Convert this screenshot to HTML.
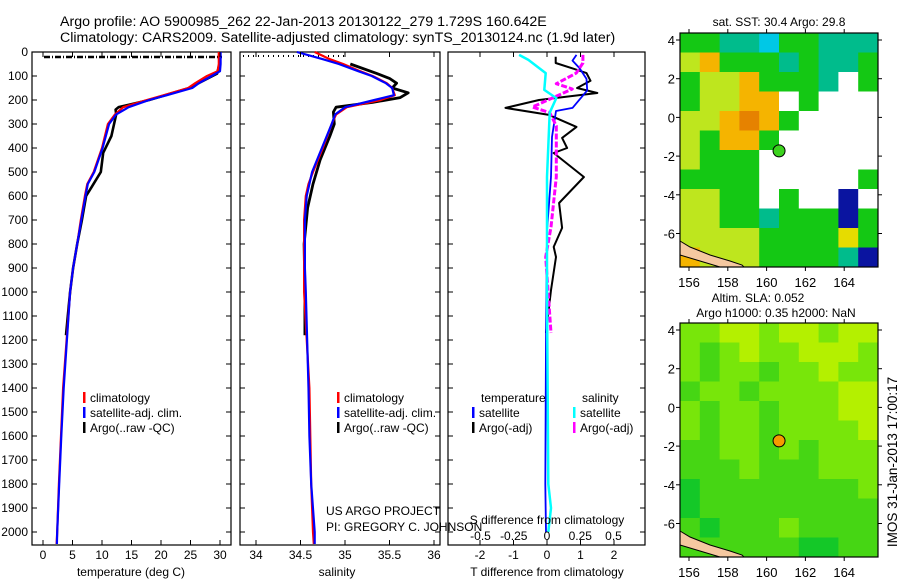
<!DOCTYPE html>
<html><head><meta charset="utf-8">
<style>
html,body{margin:0;padding:0;background:#fff;}
svg{display:block;font-family:"Liberation Sans",sans-serif;}
text{fill:#000;}
</style></head>
<body>
<svg id="fig" width="900" height="580" viewBox="0 0 900 580" xmlns="http://www.w3.org/2000/svg">
<text x="60" y="26" font-size="14.2">Argo profile: AO 5900985_262 22-Jan-2013 20130122_279 1.729S 160.642E</text>
<text x="60" y="42" font-size="14.2">Climatology: CARS2009. Satellite-adjusted climatology: synTS_20130124.nc (1.9d later)</text>
<g id="panels"></g>
</svg>
<script>
// ---- data ----
const depthTicks=[0,100,200,300,400,500,600,700,800,900,1000,1100,1200,1300,1400,1500,1600,1700,1800,1900,2000];
const tempTicks=[0,5,10,15,20,25,30];
const salTicks=[34,34.5,35,35.5,36];
const tdTicks=[-2,-1,0,1,2];
const sdTicks=[-0.5,-0.25,0,0.25,0.5];
const climDepth=[0,30,50,80,100,130,150,180,200,230,260,300,400,500,550,600,700,800,900,1000,1400,1600,1800,2000,2050];
const climTemp=[29.8,29.8,29.8,29.6,27.8,25.8,24.6,20.5,17.6,13.6,12.2,11,10,8.6,7.5,7.1,6.4,5.8,5.1,4.6,3.4,3.05,2.7,2.4,2.3];
const satTemp=[30.1,30.1,30.1,30.0,28.6,26.4,25.3,21,18.0,14.5,12.4,11.2,10.1,8.7,7.6,7.2,6.5,5.8,5.1,4.6,3.5,3.1,2.75,2.4,2.35];
const argoDepth=[10,50,90,150,200,230,240,260,350,420,500,560,600,700,800,900,1000,1100,1180];
const argoTemp=[29.9,29.9,29.5,24.8,18,12.8,12.3,12.4,11.6,10.2,9.8,8.3,7.3,6.6,5.8,5.1,4.6,4.2,3.9];
const climSal=[34.66,34.83,34.98,35.17,35.31,35.47,35.53,35.56,35.4,35.02,34.9,34.85,34.75,34.64,34.59,34.56,34.54,34.54,34.54,34.54,34.6,34.61,34.62,34.64,34.65];
const satSal=[34.46,34.75,34.93,35.15,35.3,35.46,35.53,35.55,35.33,35.0,34.89,34.85,34.74,34.63,34.6,34.57,34.55,34.55,34.55,34.56,34.59,34.6,34.62,34.66,34.66];
const argoSalDepth=[50,90,110,130,150,170,190,210,230,250,300,350,450,550,650,800,1000,1180];
const argoSal=[35.06,35.36,35.5,35.58,35.53,35.71,35.62,35.31,34.9,34.87,34.88,34.83,34.72,34.64,34.58,34.54,34.55,34.55];
const tdDepth=[20,46,70,88,120,150,171,200,233,262,312,358,400,421,521,629,733,812,854,992,1171];
const tdArgo=[0.26,0.26,0.8,1.18,1.3,0.9,1.5,-0.24,-1.24,0.06,0.88,0.45,0.6,0.2,1.1,0.36,0.45,0.2,0.27,0.12,-0.03];
const tdSatDepth=[12,36,67,112,160,233,246,354,521,744,1208,1800,2000];
const tdSat=[0.88,0.76,0.97,1.18,1.2,0.76,0.27,0.15,0.12,0,-0.03,-0.05,-0.03];
const sdSatDepth=[12,33,88,158,192,253,521,1000,1800,1900,2000];
const sdSat=[-0.21,-0.14,-0.01,-0.02,0.07,0.02,0,0,0.01,0.03,0.01];
const sdArgoDepth=[12,46,88,132,154,229,253,308,521,729,854,1171];
const sdArgo=[0.27,0.27,0.22,0.07,0.19,-0.11,0.02,0.07,0.07,0.03,-0.01,0.03];
const sstGrid=["ggttcggttt","yogggtgttg","gyyogggtWg","gyyooWgWWW","yyoOogWWWW","ygoogWWWWW","ygggWWWWWW","ggggWWWWWg","yyggWgWWbW","yyggtgggbg","yyyyggggYg","oyyyggggtb"];
const slaGrid=["MMLLMLLMLL","MGMLMMLLLM","MGMMGMMLMM","GMMGMMMMLL","MGMMGMMMLL","MGMMGMMMML","GGMMGMGMMM","GGGMGGGMMM","DGGGGGGGGM","DGGGGGGGGG","GDGGGMGGGG","GGGGGGDDGG"];
const sstColors={g:"#14c814",t:"#00bc8c",c:"#00c8e6",y:"#bee61e",Y:"#e6dc00",o:"#f5b400",O:"#e68200",b:"#0a14a0",W:"#ffffff"};
const slaColors={L:"#b4f000",M:"#78e60a",G:"#46d614",D:"#14c828"};
const NS="http://www.w3.org/2000/svg";
const root=document.getElementById('panels');
function el(tag,attrs,parent,txt){const e=document.createElementNS(NS,tag);for(const k in attrs)e.setAttribute(k,attrs[k]);if(txt!==undefined)e.textContent=txt;(parent||root).appendChild(e);return e;}
const y0=52, yScale=0.24;
function yD(d){return y0+d*yScale;}
function line(xs,ds,fx,color,w,name,dash){
  const pts=xs.map((v,i)=>fx(v).toFixed(1)+","+yD(ds[i]).toFixed(1)).join(" ");
  const p=el('polyline',{points:pts,fill:"none",stroke:color,"stroke-width":w,"stroke-linejoin":"round"});
  if(dash)p.setAttribute('stroke-dasharray',dash);
  
  
}
function box(x1,x2,name){
  const r=el('rect',{x:x1,y:52,width:x2-x1,height:493,fill:"none",stroke:"#000","stroke-width":1.2});
  
  
  depthTicks.forEach(d=>{el('line',{x1:x1,x2:x1+5,y1:yD(d),y2:yD(d),stroke:"#000"});el('line',{x1:x2,x2:x2-5,y1:yD(d),y2:yD(d),stroke:"#000"});});
}
function xticks(ticks,fx,y,lbl){ticks.forEach(t=>{const x=fx(t);el('line',{x1:x,x2:x,y1:545,y2:540,stroke:"#000"});el('line',{x1:x,x2:x,y1:52,y2:57,stroke:"#000"});const tx=el('text',{x:x,y:y,"font-size":12,"text-anchor":"middle"},root,String(t));});}
function legend(x,y,color,txt){el('rect',{x:x,y:y-10,width:2.5,height:11,fill:color});const t=el('text',{x:x+7,y:y,"font-size":12},root,txt);}
depthTicks.forEach(d=>{const t=el('text',{x:28,y:yD(d)+4,"font-size":12,"text-anchor":"end"},root,String(d));});
// panel 1 temperature
const fT=t=>43+5.9*t;
box(32,231,'temperature-panel');
el('line',{x1:44,x2:222,y1:57,y2:57,stroke:"#000","stroke-width":2.5,"stroke-dasharray":"6 2 1 2"});
line(argoTemp,argoDepth,fT,"#000",2.6,'argo-temperature-line');
line(climTemp,climDepth,fT,"#f00",2.2,'climatology-temperature-line');
line(satTemp,climDepth,fT,"#0000ff",2.2,'satellite-temperature-line');
xticks(tempTicks,fT,559,'temperature-tick-label');
el('text',{x:131,y:576,"font-size":12,"text-anchor":"middle",},root,"temperature (deg C)");
legend(83,402,"#f00","climatology");legend(83,417,"#00f","satellite-adj. clim.");legend(83,432,"#000","Argo(..raw -QC)");
// panel 2 salinity
const fS=s=>256+89*(s-34);
box(240,440,'salinity-panel');
el('line',{x1:243,x2:345,y1:56,y2:56,stroke:"#000","stroke-width":2,"stroke-dasharray":"1 4"});
line(argoSal,argoSalDepth,fS,"#000",2.8,'argo-salinity-line');
line(climSal,climDepth,fS,"#f00",2.2,'climatology-salinity-line');
line(satSal,climDepth,fS,"#0000ff",2.2,'satellite-salinity-line');
xticks(salTicks,fS,559,'salinity-tick-label');
el('text',{x:337,y:576,"font-size":12,"text-anchor":"middle",},root,"salinity");
legend(337,402,"#f00","climatology");legend(337,417,"#00f","satellite-adj. clim.");legend(337,432,"#000","Argo(..raw -QC)");
el('text',{x:326,y:515,"font-size":12,},root,"US ARGO PROJECT");
el('text',{x:326,y:531,"font-size":12,},root,"PI: GREGORY C. JOHNSON");
// panel 3 differences
const fTD=t=>547+33.5*t, fSD=s=>547+133*s;
box(448,645,'difference-panel');
line(tdArgo,tdDepth,fTD,"#000",2,'argo-temperature-difference-line');
line(tdSat,tdSatDepth,fTD,"#0000ff",1.8,'satellite-temperature-difference-line');
line(sdArgo,sdArgoDepth,fSD,"#ff00ff",3,'argo-salinity-difference-line',"6 2");
line(sdSat,sdSatDepth,fSD,"#00ffff",2.5,'satellite-salinity-difference-line');
tdTicks.forEach(t=>{const x=fTD(t);el('line',{x1:x,x2:x,y1:545,y2:540,stroke:"#000"});el('line',{x1:x,x2:x,y1:52,y2:57,stroke:"#000"});el('text',{x:x,y:559,"font-size":12,"text-anchor":"middle",},root,String(t));});
sdTicks.forEach(s=>{el('text',{x:fSD(s),y:540,"font-size":12,"text-anchor":"middle",},root,String(s));});
el('text',{x:547,y:524,"font-size":12,"text-anchor":"middle",},root,"S difference from climatology");
el('text',{x:547,y:576,"font-size":12,"text-anchor":"middle",},root,"T difference from climatology");
el('text',{x:481,y:402,"font-size":12,},root,"temperature");
el('text',{x:582,y:402,"font-size":12,},root,"salinity");
legend(472,417,"#00f","satellite");legend(472,432,"#000","Argo(-adj)");
legend(573,417,"#0ff","satellite");legend(573,432,"#f0f","Argo(-adj)");
// maps
const lonTicks=[156,158,160,162,164], latTicks=[4,2,0,-2,-4,-6];
function map(top,grid,colors,name,dotColor){
  const x1=680,x2=878,y1=top,y2=top+234;
  const fx=lon=>689+(lon-156)*19.4, fy=lat=>top+7+(4-lat)*19.35;
  const nr=grid.length,nc=grid[0].length,cw=(x2-x1)/nc,ch=(y2-y1)/nr;
  grid.forEach((row,r)=>{[...row].forEach((c,k)=>{const rc=el('rect',{x:(x1+k*cw).toFixed(1),y:(y1+r*ch).toFixed(1),width:(cw+0.5).toFixed(1),height:(ch+0.5).toFixed(1),fill:colors[c]});});});
  el('path',{d:`M${x1} ${y2-26} L${x1+10} ${y2-20} L${x1+30} ${y2-12} L${x1+50} ${y2-6} L${x1+62} ${y2-2} L${x1+64} ${y2} L${x1+40} ${y2} L${x1+20} ${y2-6} L${x1} ${y2-12} Z`,fill:"#f5c8a0",stroke:"#000","stroke-width":1});
  const b=el('rect',{x:x1,y:y1,width:x2-x1,height:y2-y1,fill:"none",stroke:"#000","stroke-width":1.2});
  
  lonTicks.forEach(l=>{const x=fx(l);el('line',{x1:x,x2:x,y1:y1,y2:y1-4,stroke:"#000"});el('line',{x1:x,x2:x,y1:y2,y2:y2+4,stroke:"#000"});el('text',{x:x,y:y2+20,"font-size":13,"text-anchor":"middle",},root,String(l));});
  latTicks.forEach(l=>{const y=fy(l);el('line',{x1:x1,x2:x1-4,y1:y,y2:y,stroke:"#000"});el('line',{x1:x2,x2:x2+4,y1:y,y2:y,stroke:"#000"});el('text',{x:675,y:y+5,"font-size":13,"text-anchor":"end",},root,String(l));});
  const c=el('circle',{cx:fx(160.642),cy:fy(-1.729),r:6,fill:dotColor,stroke:"#000","stroke-width":1});
  
}
map(33,sstGrid,sstColors,'sst-map','#3cd21e');
map(323,slaGrid,slaColors,'sla-map','#f59b00');
el('text',{x:779,y:26,"font-size":12,"text-anchor":"middle",},root,"sat. SST: 30.4  Argo: 29.8");
el('text',{x:758,y:302,"font-size":12,"text-anchor":"middle",},root,"Altim. SLA: 0.052");
el('text',{x:776,y:317,"font-size":12,"text-anchor":"middle",},root,"Argo h1000: 0.35 h2000: NaN");
el('text',{x:0,y:0,"font-size":13.5,"text-anchor":"middle",transform:"translate(897,462) rotate(-90)",},root,"IMOS 31-Jan-2013 17:00:17");
</script>
</body></html>
